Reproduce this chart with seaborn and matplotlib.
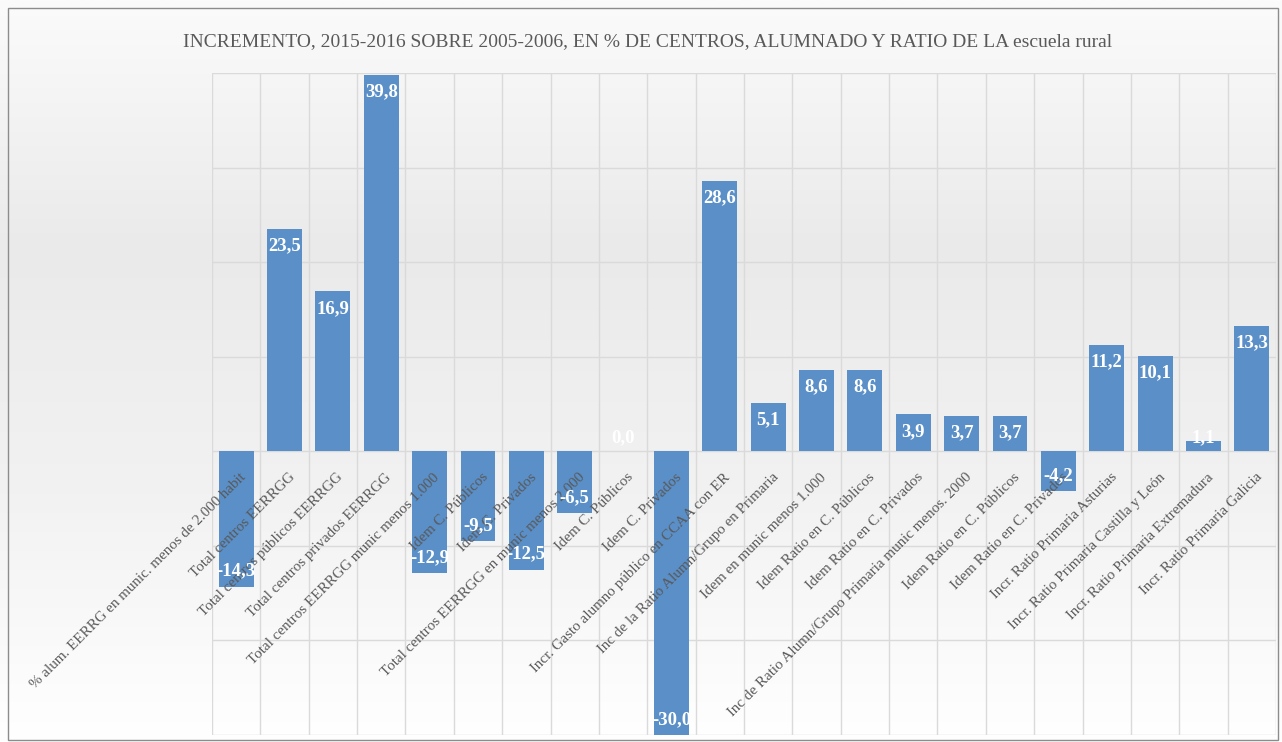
import numpy as np
import pandas as pd
import matplotlib
matplotlib.use("Agg")
import matplotlib.pyplot as plt
import seaborn as sns
from matplotlib.patches import Rectangle

title = "INCREMENTO, 2015-2016 SOBRE 2005-2006, EN % DE CENTROS, ALUMNADO Y RATIO DE LA escuela rural"

categories = [
    "% alum. EERRG en munic. menos de 2.000 habit",
    "Total centros EERRGG",
    "Total centros públicos EERRGG",
    "Total centros privados EERRGG",
    "Total centros EERRGG munic menos 1.000",
    "Idem C. Públicos",
    "Idem C. Privados",
    "Total centros EERRGG en munic menos 2.000",
    "Idem C. Públicos",
    "Idem C. Privados",
    "Incr. Gasto alumno público en CCAA con ER",
    "Inc de la Ratio Alumn/Grupo en Primaria",
    "Idem en munic menos 1.000",
    "Idem Ratio en C. Públicos",
    "Idem Ratio en C. Privados",
    "Inc de Ratio Alumn/Grupo Primaria munic menos. 2000",
    "Idem Ratio en C. Públicos",
    "Idem Ratio en C. Privados",
    "Incr. Ratio Primaria Asturias",
    "Incr. Ratio Primaria Castilla y León",
    "Incr. Ratio Primaria Extremadura",
    "Incr. Ratio Primaria Galicia",
]
values = [-14.3, 23.5, 16.9, 39.8, -12.9, -9.5, -12.5, -6.5, 0.0, -30.0,
          28.6, 5.1, 8.6, 8.6, 3.9, 3.7, 3.7, -4.2, 11.2, 10.1, 1.1, 13.3]

sns.set_theme(style="white")
plt.rcParams['font.family'] = ['Liberation Serif', 'DejaVu Serif']

df = pd.DataFrame({"pos": list(range(len(values))), "valor": values})

W, H = 1282, 742
fig = plt.figure(figsize=(W / 100, H / 100), dpi=100)
fig.patch.set_facecolor("white")

# soft background gradient
bg = fig.add_axes([0, 0, 1, 1], zorder=-10)
grad = np.linspace(0, 1, 256).reshape(-1, 1)
bg.imshow(grad, aspect="auto", cmap=matplotlib.colors.LinearSegmentedColormap.from_list(
    "g", ["#fbfbfb", "#eaeaea", "#f2f2f2", "#ffffff"]), extent=[0, 1, 0, 1])
bg.axis("off")

x0, x1 = 212 / W, 1276 / W
y0, y1 = 1 - 735 / H, 1 - 73 / H
ax = fig.add_axes([x0, y0, x1 - x0, y1 - y0])
ax.set_facecolor("none")

sns.barplot(data=df, x="pos", y="valor", color="#5a8fc8", width=0.72,
            saturation=1, linewidth=0, ax=ax, zorder=3)

ax.set_ylim(-30, 40)
ax.set_xlim(-0.5, len(values) - 0.5)
ax.set_yticks(np.arange(-30, 41, 10))
ax.set_yticklabels([])
ax.set_xticks(np.arange(-0.5, len(values), 1.0), minor=True)
ax.set_xticks(range(len(categories)))
ax.set_xticklabels([])
ax.grid(False)
ax.grid(True, axis="y", which="major", color="#dadada", linewidth=1, zorder=0)
ax.grid(True, axis="x", which="minor", color="#dadada", linewidth=1, zorder=0)
ax.tick_params(axis="both", which="both", length=0)
ax.set_xlabel("")
ax.set_ylabel("")
for s in ["top", "right", "left", "bottom"]:
    ax.spines[s].set_visible(False)

# category labels anchored at the zero line, drawn above the bars
for i, cat in enumerate(categories):
    ax.annotate(cat, (i, 0), xytext=(2.5, -14), textcoords="offset points",
                rotation=45, ha="right", va="top", rotation_mode="anchor",
                fontsize=10.8, color="#595959", zorder=6, annotation_clip=False)

for i, v in enumerate(values):
    txt = f"{v:.1f}".replace(".", ",")
    kw = dict(textcoords="offset points", ha="center", color="white",
              fontsize=13.5, fontweight="bold", zorder=7)
    if abs(v) < 2:
        ax.annotate(txt, (i, 0), xytext=(0, 10), va="center", **kw)
    elif v > 0:
        ax.annotate(txt, (i, v), xytext=(0, -6), va="top", **kw)
    else:
        ax.annotate(txt, (i, v), xytext=(0, 5), va="bottom", **kw)

fig.text(648 / W, 1 - 42 / H, title, ha="center", va="center",
         fontsize=14, color="#595959")

fig.patches.append(Rectangle((8 / W, 2 / H), 1 - 12 / W, 1 - 10 / H,
                             transform=fig.transFigure, fill=False,
                             edgecolor="#8c8c8c", linewidth=1))

fig.savefig("out.png", dpi=100)
